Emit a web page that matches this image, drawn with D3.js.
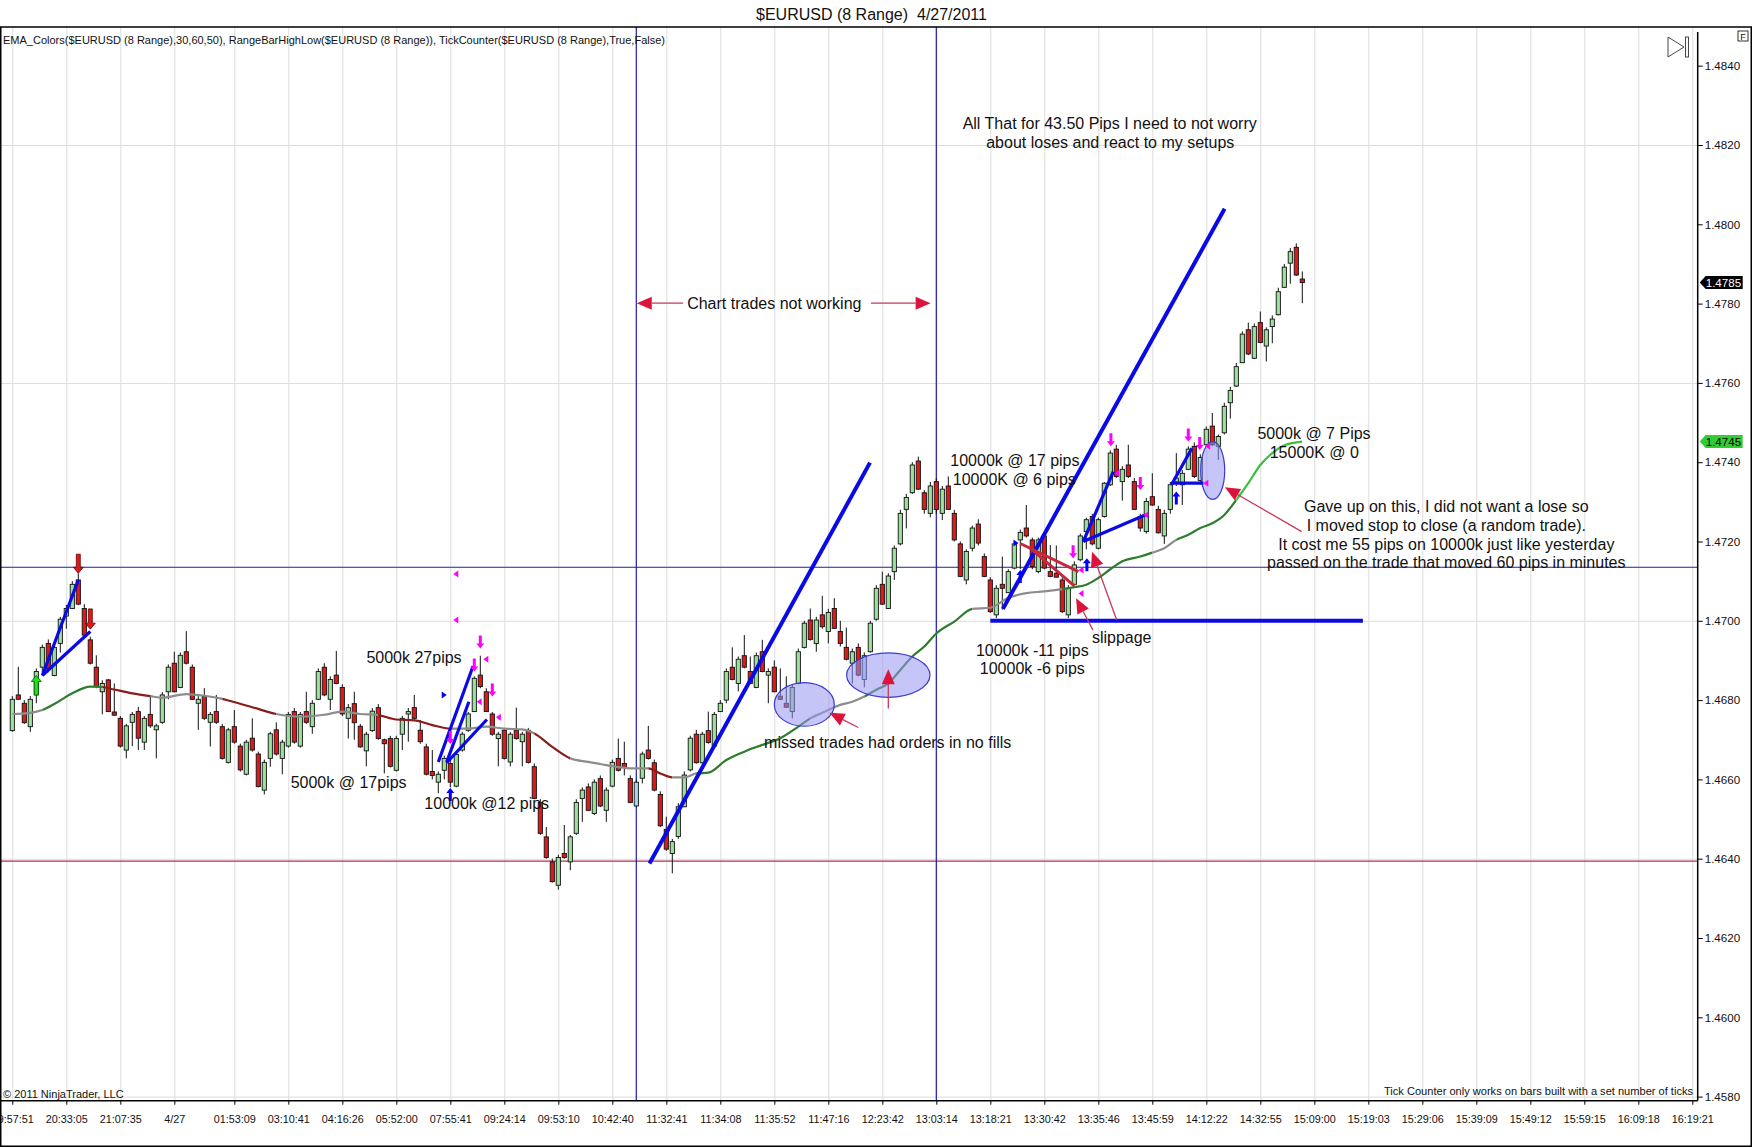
<!DOCTYPE html>
<html>
<head>
<meta charset="utf-8">
<script src="https://cdn.jsdelivr.net/npm/d3@7"></script>
<style>
  body { margin: 0; background: #fff; }
  text { font-family: "Liberation Sans", Arial, sans-serif; fill: #111; }
</style>
</head>
<body>
<script>
// ---- data (8 pip range bars, one per index) ----
const open = [
1.46723,1.46813,1.46792,1.46733,1.46813,1.46883,1.46943,1.46862,1.46943,1.47012,
1.47031,1.47103,1.47031,1.46952,1.46883,1.46821,1.46851,1.46770,1.46754,1.46674,
1.46744,1.46771,1.46694,1.46764,1.46725,1.46744,1.46821,1.46893,1.46832,1.46922,
1.46883,1.46792,1.46809,1.46744,1.46771,1.46733,1.46643,1.46733,1.46684,1.46613,
1.46704,1.46664,1.46573,1.46653,1.46725,1.46653,1.46684,1.46771,1.46684,1.46771,
1.46733,1.46802,1.46883,1.46802,1.46863,1.46832,1.46754,1.46791,1.46734,1.46672,
1.46723,1.46781,1.46700,1.46703,1.46623,1.46714,1.46765,1.46781,1.46724,1.46682,
1.46620,1.46593,1.46623,1.46640,1.46583,1.46674,1.46724,1.46771,1.46863,1.46821,
1.46765,1.46703,1.46724,1.46644,1.46724,1.46695,1.46724,1.46632,1.46542,1.46455,
1.46392,1.46333,1.46413,1.46392,1.46464,1.46552,1.46581,1.46514,1.46602,1.46522,
1.46583,1.46653,1.46640,1.46602,1.46533,1.46603,1.46674,1.46642,1.46562,1.46474,
1.46413,1.46456,1.46531,1.46624,1.46714,1.46642,1.46723,1.46684,1.46771,1.46800,
1.46883,1.46842,1.46912,1.46872,1.46832,1.46922,1.46863,1.46883,1.46810,1.46792,
1.46771,1.46842,1.46933,1.47002,1.46943,1.47015,1.46973,1.47031,1.46973,1.46933,
1.46893,1.46933,1.46852,1.46922,1.47004,1.47092,1.47031,1.47124,1.47194,1.47281,
1.47323,1.47403,1.47323,1.47271,1.47351,1.47271,1.47340,1.47271,1.47194,1.47103,
1.47183,1.47244,1.47162,1.47103,1.47015,1.47092,1.47071,1.47133,1.47204,1.47234,
1.47204,1.47124,1.47214,1.47124,1.47120,1.47103,1.47015,1.47092,1.47154,1.47225,
1.47263,1.47183,1.47263,1.47343,1.47433,1.47351,1.47393,1.47351,1.47263,1.47225,
1.47313,1.47281,1.47214,1.47281,1.47350,1.47343,1.47382,1.47440,1.47354,1.47444,
1.47491,1.47440,1.47474,1.47550,1.47592,1.47651,1.47734,1.47662,1.47752,1.47693,
1.47742,1.47772,1.47841,1.47902,1.47942,1.47862];
const high = [
1.46810,1.46884,1.46800,1.46810,1.46880,1.46940,1.46953,1.46940,1.47010,1.47040,
1.47100,1.47120,1.47042,1.46960,1.46913,1.46850,1.46853,1.46842,1.46760,1.46740,
1.46770,1.46783,1.46760,1.46813,1.46740,1.46820,1.46890,1.46922,1.46920,1.46974,
1.46890,1.46810,1.46830,1.46770,1.46813,1.46740,1.46730,1.46775,1.46690,1.46700,
1.46754,1.46670,1.46650,1.46720,1.46744,1.46700,1.46770,1.46780,1.46770,1.46821,
1.46800,1.46880,1.46893,1.46860,1.46924,1.46840,1.46790,1.46821,1.46740,1.46720,
1.46780,1.46790,1.46703,1.46710,1.46710,1.46760,1.46780,1.46813,1.46750,1.46690,
1.46674,1.46620,1.46660,1.46650,1.46670,1.46720,1.46770,1.46860,1.46912,1.46830,
1.46770,1.46720,1.46730,1.46720,1.46781,1.46720,1.46730,1.46640,1.46550,1.46480,
1.46400,1.46410,1.46485,1.46460,1.46550,1.46580,1.46590,1.46600,1.46610,1.46580,
1.46650,1.46703,1.46695,1.46610,1.46600,1.46670,1.46735,1.46650,1.46570,1.46506,
1.46450,1.46540,1.46620,1.46710,1.46725,1.46720,1.46771,1.46770,1.46800,1.46880,
1.46933,1.46910,1.46964,1.46910,1.46920,1.46952,1.46880,1.46900,1.46880,1.46860,
1.46840,1.46930,1.47000,1.47031,1.47010,1.47063,1.47030,1.47057,1.47000,1.46983,
1.46930,1.46943,1.46920,1.47000,1.47090,1.47124,1.47120,1.47190,1.47280,1.47320,
1.47400,1.47414,1.47330,1.47350,1.47360,1.47340,1.47364,1.47280,1.47200,1.47180,
1.47240,1.47256,1.47170,1.47110,1.47090,1.47162,1.47130,1.47200,1.47230,1.47292,
1.47210,1.47210,1.47220,1.47191,1.47190,1.47110,1.47090,1.47150,1.47220,1.47260,
1.47270,1.47260,1.47350,1.47430,1.47444,1.47390,1.47444,1.47360,1.47270,1.47310,
1.47372,1.47290,1.47280,1.47350,1.47423,1.47380,1.47440,1.47450,1.47420,1.47490,
1.47524,1.47470,1.47550,1.47590,1.47650,1.47730,1.47752,1.47750,1.47780,1.47740,
1.47770,1.47840,1.47900,1.47940,1.47952,1.47881];
const low = [
1.46720,1.46802,1.46740,1.46720,1.46792,1.46870,1.46870,1.46860,1.46920,1.46980,
1.47030,1.47040,1.46960,1.46890,1.46830,1.46764,1.46770,1.46760,1.46680,1.46653,
1.46684,1.46674,1.46674,1.46730,1.46653,1.46740,1.46802,1.46820,1.46830,1.46890,
1.46800,1.46725,1.46750,1.46683,1.46740,1.46650,1.46640,1.46690,1.46620,1.46610,
1.46670,1.46580,1.46562,1.46632,1.46660,1.46613,1.46680,1.46690,1.46680,1.46740,
1.46715,1.46800,1.46810,1.46775,1.46840,1.46760,1.46703,1.46700,1.46680,1.46633,
1.46720,1.46700,1.46615,1.46630,1.46620,1.46674,1.46695,1.46750,1.46690,1.46610,
1.46600,1.46565,1.46600,1.46580,1.46580,1.46670,1.46720,1.46770,1.46830,1.46770,
1.46710,1.46633,1.46650,1.46633,1.46700,1.46633,1.46640,1.46550,1.46460,1.46400,
1.46340,1.46322,1.46400,1.46371,1.46460,1.46493,1.46520,1.46510,1.46530,1.46493,
1.46580,1.46620,1.46610,1.46540,1.46530,1.46590,1.46650,1.46570,1.46480,1.46420,
1.46363,1.46450,1.46530,1.46620,1.46640,1.46640,1.46690,1.46680,1.46770,1.46792,
1.46850,1.46822,1.46880,1.46840,1.46830,1.46870,1.46792,1.46820,1.46800,1.46780,
1.46754,1.46840,1.46930,1.46950,1.46922,1.46980,1.46943,1.46980,1.46935,1.46900,
1.46842,1.46860,1.46832,1.46920,1.47000,1.47040,1.47030,1.47103,1.47190,1.47233,
1.47320,1.47330,1.47270,1.47261,1.47270,1.47254,1.47280,1.47200,1.47110,1.47092,
1.47175,1.47190,1.47110,1.47020,1.47007,1.47028,1.47070,1.47130,1.47130,1.47210,
1.47130,1.47120,1.47130,1.47110,1.47110,1.47020,1.47007,1.47090,1.47150,1.47180,
1.47190,1.47180,1.47260,1.47340,1.47360,1.47303,1.47360,1.47280,1.47225,1.47220,
1.47290,1.47220,1.47194,1.47270,1.47340,1.47292,1.47380,1.47360,1.47350,1.47440,
1.47440,1.47406,1.47470,1.47510,1.47590,1.47650,1.47670,1.47660,1.47700,1.47654,
1.47700,1.47770,1.47840,1.47850,1.47870,1.47801];
const close = [
1.46802,1.46802,1.46743,1.46802,1.46872,1.46933,1.46880,1.46933,1.47004,1.47031,
1.47092,1.47042,1.46964,1.46893,1.46834,1.46842,1.46771,1.46762,1.46684,1.46735,
1.46764,1.46704,1.46754,1.46735,1.46735,1.46813,1.46883,1.46821,1.46913,1.46893,
1.46802,1.46802,1.46754,1.46764,1.46744,1.46653,1.46725,1.46694,1.46624,1.46694,
1.46674,1.46582,1.46643,1.46715,1.46664,1.46694,1.46764,1.46694,1.46764,1.46744,
1.46792,1.46872,1.46813,1.46852,1.46842,1.46765,1.46781,1.46743,1.46682,1.46714,
1.46772,1.46703,1.46690,1.46633,1.46703,1.46754,1.46771,1.46754,1.46695,1.46613,
1.46610,1.46613,1.46653,1.46593,1.46663,1.46714,1.46765,1.46855,1.46834,1.46771,
1.46714,1.46714,1.46653,1.46714,1.46703,1.46714,1.46643,1.46552,1.46464,1.46403,
1.46342,1.46403,1.46403,1.46455,1.46542,1.46573,1.46522,1.46593,1.46533,1.46573,
1.46643,1.46623,1.46630,1.46542,1.46593,1.46664,1.46653,1.46573,1.46483,1.46424,
1.46443,1.46531,1.46611,1.46704,1.46642,1.46714,1.46693,1.46764,1.46792,1.46872,
1.46852,1.46903,1.46883,1.46842,1.46912,1.46872,1.46872,1.46821,1.46802,1.46782,
1.46832,1.46922,1.46994,1.46953,1.47002,1.46985,1.47021,1.46981,1.46943,1.46903,
1.46922,1.46863,1.46912,1.46994,1.47082,1.47042,1.47113,1.47183,1.47271,1.47311,
1.47393,1.47332,1.47281,1.47340,1.47281,1.47332,1.47281,1.47204,1.47112,1.47175,
1.47234,1.47196,1.47112,1.47023,1.47082,1.47082,1.47124,1.47194,1.47223,1.47214,
1.47137,1.47204,1.47133,1.47112,1.47110,1.47023,1.47082,1.47141,1.47214,1.47255,
1.47194,1.47255,1.47347,1.47423,1.47364,1.47382,1.47364,1.47281,1.47234,1.47301,
1.47292,1.47222,1.47271,1.47343,1.47360,1.47372,1.47433,1.47364,1.47412,1.47483,
1.47444,1.47465,1.47541,1.47581,1.47641,1.47723,1.47673,1.47742,1.47702,1.47734,
1.47761,1.47830,1.47892,1.47931,1.47872,1.47853];
const highlightBars = [104, 142, 198]; // light blue bars

// EMA_Colors line read at sample bars, with its colour state (n flat, r falling, g/G rising)
const emaBar = [0,3,5,7,10,13,15,16,20,23,25,29,32,35,36,40,44,48,52,55,58,61,64,67,70,73,76,79,82,85,87,90,93,96,99,103,106,108,110,112,114,116,119,122,125,128,131,133,135,138,140,142,144,146,148,150,152,154,157,160,163,166,169,172,175,177,179,181,183,185,188,190,192,194,196,198,200,202,204,206,208,210,212,215];
const emaVal = [1.46765,1.46768,1.46775,1.46790,1.46817,1.46834,1.46833,1.46830,1.46817,1.46810,1.46806,1.46815,1.46811,1.46803,1.46799,1.46782,1.46765,1.46758,1.46763,1.46771,1.46765,1.46762,1.46751,1.46749,1.46737,1.46728,1.46728,1.46733,1.46728,1.46726,1.46716,1.46682,1.46653,1.46644,1.46636,1.46628,1.46628,1.46615,1.46605,1.46605,1.46615,1.46617,1.46649,1.46670,1.46687,1.46704,1.46733,1.46754,1.46768,1.46788,1.46796,1.46809,1.46826,1.46842,1.46876,1.46910,1.46935,1.46968,1.46998,1.47030,1.47033,1.47058,1.47070,1.47074,1.47080,1.47085,1.47091,1.47108,1.47130,1.47150,1.47162,1.47172,1.47183,1.47204,1.47217,1.47234,1.47246,1.47267,1.47305,1.47347,1.47393,1.47423,1.47443,1.47452];
const emaTone = ["n","n","g","g","g","g","r","r","r","n","n","n","n","r","r","r","n","n","n","n","n","r","r","r","r","n","n","n","n","n","r","r","n","n","n","n","r","r","n","n","g","g","g","g","g","g","g","n","n","n","n","g","g","g","g","g","g","g","g","n","n","n","n","n","g","g","g","g","g","g","g","n","n","g","g","g","g","g","G","G","G","G","G","G"];

// time axis labels (bar index -> label)
const labelBars = [0,9,18,27,37,46,55,64,73,82,91,100,109,118,127,136,145,154,163,172,181,190,199,208,217,226,235,244,253,262,271,280];
const labelText = ["19:57:51","20:33:05","21:07:35","4/27","01:53:09","03:10:41","04:16:26","05:52:00","07:55:41","09:24:14","09:53:10","10:42:40","11:32:41","11:34:08","11:35:52","11:47:16","12:23:42","13:03:14","13:18:21","13:30:42","13:35:46","13:45:59","14:12:22","14:32:55","15:09:00","15:19:03","15:29:06","15:39:09","15:49:12","15:59:15","16:09:18","16:19:21"];
const priceTicks = [1.4580,1.4600,1.4620,1.4640,1.4660,1.4680,1.4700,1.4720,1.4740,1.4760,1.4780,1.4800,1.4820,1.4840];
const gridPrices = [1.4580,1.4640,1.4700,1.4760,1.4820];

// drawn objects (bar, price)
const hLineBlue = 1.47135, hLineRed = 1.46394, vLineBars = [104, 154];
const trendLines = [ // thick blue
  [106.2,1.46388,142.95,1.47399],[165.1,1.47030,202.05,1.48039],[163,1.47000,225.1,1.47000],
  [5,1.46862,11,1.47103],[5,1.46862,13,1.46973],
  [71,1.46644,76.8,1.46886],[72.4,1.46644,76.1,1.46796],[72.4,1.46642,79.1,1.46751],
  [178.5,1.47200,183.5,1.47376],[178.5,1.47200,188.8,1.47267],[193.2,1.47343,196.6,1.47435],[193.2,1.47347,198.5,1.47347]];
const stopLines = [[168,1.47195,177.7,1.47124],[169.5,1.47185,177,1.47088]];
const ellipses = [[132,1.46789,5,0.00055],[146,1.46863,6.95,0.00056],[200.07,1.47379,2,0.00073]];
const bigDown = [[11,1.47168,1.47120],[13,1.47030,1.46979]];
const bigUp = [[4,1.46862,1.46813]];
const pinkDown = [[73,1.46689],[77,1.46872],[78,1.46930],[80,1.46809],[176.8,1.47158],[183.1,1.47440],[188,1.47330],[196,1.47452],[197.9,1.47431]];
const pinkLeft = [[73.5,1.47118],[73.5,1.47002],[78.5,1.46903],[77.4,1.46796],[80.6,1.46757],[177.7,1.47128],[177.7,1.47069],[183.7,1.47372],[188.5,1.47267],[198.5,1.47347],[198.8,1.47440]];
const blueUp = [[73,1.46578],[168,1.47128],[179.1,1.47158],[194,1.47326]];
const blueRight = [[72.4,1.46813],[167.7,1.47196]];
const noteArrows = [ // tail bar, tail price, tip bar, tip price
  [111.8,1.47801,104.08,1.47801],[143.1,1.47801,153.05,1.47801],
  [141,1.46731,136.2,1.46768],[146,1.46779,146,1.46878],
  [184.07,1.47002,179.95,1.47174],[180.1,1.46977,177.3,1.47057],
  [214.9,1.47225,202.1,1.47337]];
const notes = [
  ["All That for 43.50 Pips I need to not worry",182.9,1.48255],
  ["about loses and react to my setups",183,1.48208],
  ["Chart trades not working",127,1.47801],
  ["5000k 27pips",66.95,1.46907],
  ["5000k @ 17pips",56.05,1.46594],
  ["10000k @12 pips",79.07,1.46540],
  ["missed trades had orders in no fills",145.9,1.46693],
  ["10000k @ 17 pips",167.1,1.47404],
  ["10000K @ 6 pips",167,1.47357],
  ["slippage",184.9,1.46958],
  ["10000k -11 pips",170,1.46926],
  ["10000k -6 pips",170,1.46880],
  ["5000k @ 7 Pips",216.95,1.47474],
  ["15000K @ 0",217,1.47426],
  ["Gave up on this, I did not want a lose so",239,1.47288],
  ["I moved stop to close (a random trade).",239,1.47240],
  ["It cost me 55 pips on 10000k just like yesterday",239,1.47194],
  ["passed on the trade that moved 60 pips in minutes",239,1.47147]];

// ---- layout ----
const W = 1752, H = 1147;
const plot = { left: 0, right: 1697.7, top: 27, bottom: 1100.7 };
const x = d3.scaleLinear().domain([0, 280]).range([12.3, 1692.3]);
const y = d3.scaleLinear().domain([1.4580, 1.4840]).range([1096.6, 65.7]);

const svg = d3.select("body").append("svg")
    .attr("width", W).attr("height", H).style("display", "block");
svg.append("rect").attr("width", W).attr("height", H).attr("fill", "#fff");

svg.append("text").attr("x", 871.5).attr("y", 19.5).attr("text-anchor", "middle")
    .attr("font-size", 16).style("white-space", "pre").text("$EURUSD (8 Range)  4/27/2011");

svg.append("defs").append("clipPath").attr("id", "clip")
  .append("rect").attr("x", plot.left).attr("y", plot.top)
  .attr("width", plot.right - plot.left).attr("height", plot.bottom - plot.top);

const g = svg.append("g").attr("clip-path", "url(#clip)");

// grid
g.append("g").attr("transform", `translate(0,${plot.bottom})`)
  .call(d3.axisBottom(x).tickValues(labelBars).tickSize(-(plot.bottom - plot.top)).tickFormat(""))
  .call(a => a.select(".domain").remove())
  .selectAll("line").attr("stroke", "#dcdcdc");
g.append("g")
  .call(d3.axisLeft(y).tickValues(gridPrices).tickSize(-plot.right).tickFormat(""))
  .call(a => a.select(".domain").remove())
  .selectAll("line").attr("stroke", "#dcdcdc");

// reference lines
g.append("line").attr("x1", 0).attr("x2", plot.right).attr("y1", y(hLineBlue)).attr("y2", y(hLineBlue))
  .attr("stroke", "#1c1ca8").attr("stroke-width", 1.2);
g.append("line").attr("x1", 0).attr("x2", plot.right).attr("y1", y(hLineRed)).attr("y2", y(hLineRed))
  .attr("stroke", "#b0304e").attr("stroke-width", 1.2);
vLineBars.forEach(b => g.append("line").attr("x1", x(b)).attr("x2", x(b))
  .attr("y1", plot.top).attr("y2", plot.bottom).attr("stroke", "#1c1ca8").attr("stroke-width", 1.2));

// candles
const bars = open.map((o, i) => ({ i, o, h: high[i], l: low[i], c: close[i] }));
const cg = g.append("g");
cg.selectAll(".wick").data(bars).enter().append("line")
  .attr("x1", d => x(d.i)).attr("x2", d => x(d.i))
  .attr("y1", d => y(Math.max(d.h, d.o, d.c))).attr("y2", d => y(Math.min(d.l, d.o, d.c)))
  .attr("stroke", "#111").attr("stroke-width", 1);
cg.selectAll(".body").data(bars).enter().append("rect")
  .attr("x", d => x(d.i) - 2.1).attr("width", 4.2)
  .attr("y", d => y(Math.max(d.o, d.c)))
  .attr("height", d => Math.max(1.2, Math.abs(y(d.o) - y(d.c))))
  .attr("fill", d => highlightBars.includes(d.i) ? "#a8d8e8" : (d.c >= d.o ? "#9be09b" : "#e01818"))
  .attr("stroke", "#111").attr("stroke-width", 0.9);

// EMA with coloured stretches
const toneColor = { n: "#8c8c8c", r: "#8b1c1c", g: "#2e7d2e", G: "#3cbf3c" };
const emaPts = emaBar.map((b, i) => [x(b), y(emaVal[i])]);
const emaPath = d3.line().curve(d3.curveMonotoneX)(emaPts);
const runs = [];
emaTone.forEach((t, i) => {
  if (i === emaTone.length - 1) return;
  if (runs.length && runs[runs.length - 1].t === t) runs[runs.length - 1].to = emaBar[i + 1];
  else runs.push({ t, from: emaBar[i], to: emaBar[i + 1] });
});
const defs = svg.select("defs");
runs.forEach((r, k) => {
  defs.append("clipPath").attr("id", "ema" + k).append("rect")
    .attr("x", x(r.from)).attr("width", x(r.to) - x(r.from)).attr("y", 0).attr("height", H);
  g.append("path").attr("d", emaPath).attr("fill", "none").attr("stroke", toneColor[r.t])
    .attr("stroke-width", 2.2).attr("clip-path", `url(#ema${k})`);
});

// ellipses
g.selectAll(".ell").data(ellipses).enter().append("ellipse")
  .attr("cx", d => x(d[0])).attr("cy", d => y(d[1]))
  .attr("rx", d => x(d[2]) - x(0)).attr("ry", d => y(0) - y(d[3]))
  .attr("fill", "rgba(150,150,240,0.55)").attr("stroke", "#3a3ad0").attr("stroke-width", 1.2);

// trend lines
g.selectAll(".tl").data(trendLines).enter().append("line")
  .attr("x1", d => x(d[0])).attr("y1", d => y(d[1])).attr("x2", d => x(d[2])).attr("y2", d => y(d[3]))
  .attr("stroke", "#0a0ae6").attr("stroke-width", (d, i) => i < 3 ? 4 : 3.2);
g.selectAll(".sl").data(stopLines).enter().append("line")
  .attr("x1", d => x(d[0])).attr("y1", d => y(d[1])).attr("x2", d => x(d[2])).attr("y2", d => y(d[3]))
  .attr("stroke", "#c8283c").attr("stroke-width", 3);

// markers
const mk = g.append("g");
bigDown.forEach(d => {
  const cx = x(d[0]), y0 = y(d[1]), y1 = y(d[2]);
  mk.append("path").attr("d", `M${cx},${y1}L${cx - 5},${y1 - 6}L${cx - 2},${y1 - 6}L${cx - 2},${y0}L${cx + 2},${y0}L${cx + 2},${y1 - 6}L${cx + 5},${y1 - 6}Z`)
    .attr("fill", "#e01818").attr("stroke", "#600").attr("stroke-width", 0.8);
});
bigUp.forEach(d => {
  const cx = x(d[0]), y1 = y(d[1]), y0 = y(d[2]);
  mk.append("path").attr("d", `M${cx},${y1}L${cx - 5},${y1 + 6}L${cx - 2},${y1 + 6}L${cx - 2},${y0}L${cx + 2},${y0}L${cx + 2},${y1 + 6}L${cx + 5},${y1 + 6}Z`)
    .attr("fill", "#22e022").attr("stroke", "#060").attr("stroke-width", 0.8);
});
pinkDown.forEach(d => {
  const cx = x(d[0]), ty = y(d[1]);
  mk.append("path").attr("d", `M${cx},${ty}L${cx - 4},${ty - 5}L${cx - 1.5},${ty - 5}L${cx - 1.5},${ty - 13}L${cx + 1.5},${ty - 13}L${cx + 1.5},${ty - 5}L${cx + 4},${ty - 5}Z`)
    .attr("fill", "#ff00ff");
});
pinkLeft.forEach(d => {
  const cx = x(d[0]), cy = y(d[1]);
  mk.append("path").attr("d", `M${cx},${cy}L${cx + 5},${cy - 3.5}L${cx + 5},${cy + 3.5}Z`).attr("fill", "#ff00ff");
});
blueUp.forEach(d => {
  const cx = x(d[0]), ty = y(d[1]);
  mk.append("path").attr("d", `M${cx},${ty}L${cx - 4},${ty + 5}L${cx - 1.5},${ty + 5}L${cx - 1.5},${ty + 13}L${cx + 1.5},${ty + 13}L${cx + 1.5},${ty + 5}L${cx + 4},${ty + 5}Z`)
    .attr("fill", "#0000ff");
});
blueRight.forEach(d => {
  const cx = x(d[0]), cy = y(d[1]);
  mk.append("path").attr("d", `M${cx},${cy}L${cx - 5},${cy - 3.5}L${cx - 5},${cy + 3.5}Z`).attr("fill", "#0000ff");
});

// annotation arrows
noteArrows.forEach(d => {
  const x1 = x(d[0]), y1 = y(d[1]), x2 = x(d[2]), y2 = y(d[3]);
  const a = Math.atan2(y2 - y1, x2 - x1), len = 15, half = 6.5;
  const bx = x2 - len * Math.cos(a), by = y2 - len * Math.sin(a);
  const px = -Math.sin(a) * half, py = Math.cos(a) * half;
  g.append("line").attr("x1", x1).attr("y1", y1).attr("x2", bx).attr("y2", by)
    .attr("stroke", "#c8385a").attr("stroke-width", 1.3);
  g.append("path").attr("d", `M${x2},${y2}L${bx + px},${by + py}L${bx - px},${by - py}Z`).attr("fill", "#dc143c");
});

// annotation texts
g.selectAll(".note").data(notes).enter().append("text")
  .attr("x", d => x(d[1])).attr("y", d => y(d[2])).attr("dy", "0.36em")
  .attr("text-anchor", "middle").attr("font-size", 16).text(d => d[0]);

// corner texts
svg.append("text").attr("x", 3).attr("y", 44).attr("font-size", 11).attr("textLength", 662)
  .attr("lengthAdjust", "spacingAndGlyphs")
  .text("EMA_Colors($EURUSD (8 Range),30,60,50), RangeBarHighLow($EURUSD (8 Range)), TickCounter($EURUSD (8 Range),True,False)");
svg.append("text").attr("x", 3).attr("y", 1098).attr("font-size", 11).text("© 2011 NinjaTrader, LLC");
svg.append("text").attr("x", 1384).attr("y", 1094.5).attr("font-size", 11).attr("textLength", 309)
  .attr("lengthAdjust", "spacingAndGlyphs").text("Tick Counter only works on bars built with a set number of ticks");

// time axis
const xa = svg.append("g").attr("transform", `translate(0,${plot.bottom})`)
  .call(d3.axisBottom(x).tickValues(labelBars).tickSize(4).tickFormat((d, i) => labelText[i]));
xa.select(".domain").remove();
xa.selectAll("line").attr("stroke", "#000");
xa.selectAll("text").attr("y", 22.5).attr("dy", null).attr("font-size", 10.8)
  .attr("font-family", "'Liberation Sans', Arial, sans-serif").attr("fill", "#111");
svg.append("line").attr("x1", 0).attr("x2", plot.right).attr("y1", plot.bottom).attr("y2", plot.bottom)
  .attr("stroke", "#000").attr("stroke-width", 1.5);

// price axis
const ya = svg.append("g").attr("transform", `translate(${plot.right},0)`)
  .call(d3.axisRight(y).tickValues(priceTicks).tickSize(5).tickPadding(2).tickFormat(d3.format(".4f")));
ya.select(".domain").remove();
ya.selectAll("line").attr("stroke", "#000");
ya.selectAll("text").attr("font-size", 11.6).attr("font-family", "'Liberation Sans', Arial, sans-serif").attr("fill", "#111");
svg.append("line").attr("x1", plot.right).attr("x2", plot.right).attr("y1", 32).attr("y2", plot.bottom)
  .attr("stroke", "#000").attr("stroke-width", 1.5);

// price flags: last close and last EMA
function flag(v, fill, color) {
  const cy = y(v);
  svg.append("path").attr("d", `M${plot.right + 2},${cy}L${plot.right + 8},${cy - 6.5}L${plot.right + 45},${cy - 6.5}L${plot.right + 45},${cy + 6.5}L${plot.right + 8},${cy + 6.5}Z`)
    .attr("fill", fill);
  svg.append("text").attr("x", plot.right + 8).attr("y", cy).attr("dy", "0.36em").attr("font-size", 11.6)
    .style("fill", color).text(d3.format(".4f")(v));
}
flag(close[close.length - 1], "#000", "#fff");
flag(emaVal[emaVal.length - 1], "#33cc33", "#000");

// frame and small widgets
svg.append("rect").attr("x", 0.75).attr("y", 27).attr("width", W - 1.5).attr("height", H - 27.75)
  .attr("fill", "none").attr("stroke", "#000").attr("stroke-width", 1.5);
svg.append("rect").attr("x", 1738).attr("y", 31).attr("width", 10).attr("height", 10)
  .attr("fill", "#fff").attr("stroke", "#000").attr("stroke-width", 0.8);
svg.append("text").attr("x", 1743).attr("y", 39.5).attr("text-anchor", "middle").attr("font-size", 9).text("F");
svg.append("path").attr("d", "M1668,37L1668,57L1684,47Z").attr("fill", "none").attr("stroke", "#333").attr("stroke-width", 0.9);
svg.append("rect").attr("x", 1685.5).attr("y", 37).attr("width", 3).attr("height", 20)
  .attr("fill", "none").attr("stroke", "#333").attr("stroke-width", 0.9);
</script>
</body>
</html>
